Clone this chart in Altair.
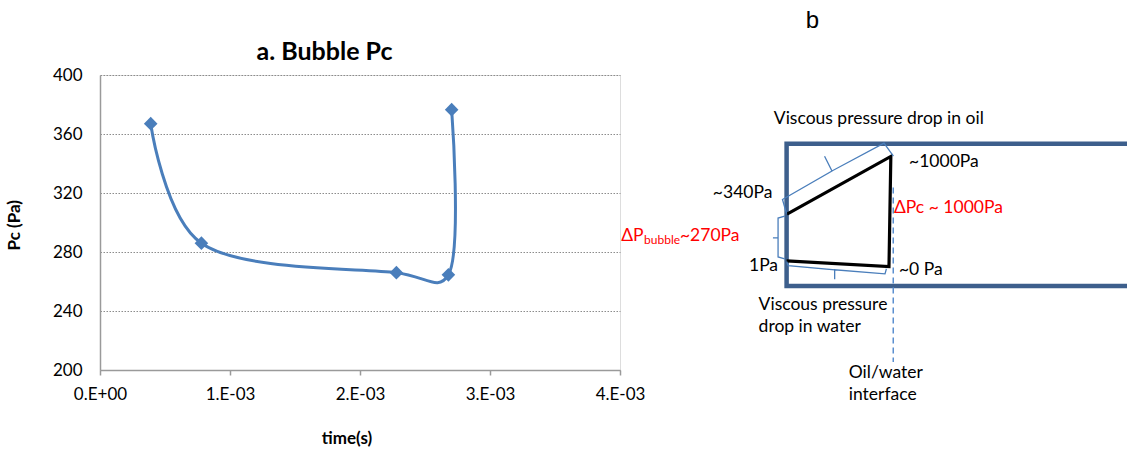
import altair as alt
import pandas as pd

# ---------------- panel a: bubble capillary pressure ----------------
time_s = [0.00039, 0.00078, 0.00228, 0.00268, 0.002705]
pc_pa = [367, 286, 266, 264.5, 376.5]
x_tick_values = [0, 0.001, 0.002, 0.003, 0.004]
x_tick_labels = ["0.E+00", "1.E-03", "2.E-03", "3.E-03", "4.E-03"]
y_tick_values = [200, 240, 280, 320, 360, 400]

# ---------------- panel b: schematic (schematic units) ----------------
# channel: left wall at u=0, bottom wall v=0, top wall v=100
wall_u = [245, 0, 0, 245]
wall_v = [100, 100, 0, 0]
profile_u = [0.3, 73.3, 72.0, 0.0]
profile_v = [50.6, 91.1, 13.7, 17.7]
interface_u = [75, 75]
interface_v = [69.3, -53.4]
brace_top_u = [0, -2.9, 31.9, 26.7, 31.9, 68.5, 75.1]
brace_top_v = [50.8, 60.8, 80.9, 91.3, 80.9, 100.5, 91.3]
brace_left_u = [-1.3, -6.0, -6.0, -9.6, -6.0, -6.0, -1.3]
brace_left_v = [49.1, 47.8, 33.8, 33.8, 33.8, 20.4, 19.1]
brace_bot_u = [0, 1.1, 33.8, 33.8, 33.8, 69.2, 70.2]
brace_bot_v = [17.3, 14.4, 11.4, 4.8, 11.4, 8.5, 12.1]

left_texts = ["Viscous pressure drop in oil", "~1000Pa", "\u0394Pc ~ 1000Pa", "~0 Pa",
              "Viscous pressure", "drop in water", "Oil/water", "interface",
              "bubble", "~270Pa"]
left_u = [-9.0, 86.1, 75.5, 79.0, -19.7, -19.7, 43.7, 43.7, -100.2, -75.0]
left_v = [114.2, 83.4, 51.1, 7.7, -17.0, -32.1, -64.7, -80.2, 29.2, 31.6]
left_col = ["black", "black", "red", "black", "black", "black", "black", "black", "red", "red"]
left_size = [17.5, 17.5, 17.5, 17.5, 17.5, 17.5, 17.5, 17.5, 12, 17.5]

right_texts = ["~340Pa", "1Pa", "\u0394P"]
right_u = [-10.0, -6.0, -100.6]
right_v = [62.2, 10.3, 31.6]
right_col = ["black", "black", "red"]
right_size = [17.5, 17.5, 17.5]

panel_b_label = ["b"]
panel_b_u = [13.4]
panel_b_v = [181.7]

BLUE = "#4A7EBB"
FONT = "Lato"

# ---------------- panel a chart ----------------
df_a = pd.DataFrame({"time": time_s, "pc": pc_pa, "order": list(range(len(time_s)))})
label_js = "[" + ",".join("'" + s + "'" for s in x_tick_labels) + "][round(datum.value*1000)]"

xa = alt.X("time:Q",
           scale=alt.Scale(domain=[0, 0.004], nice=False, zero=False),
           axis=alt.Axis(values=x_tick_values, labelExpr=label_js, grid=False, labelFlush=False,
                         title="time(s)", titleFont=FONT, titleFontSize=17, titleFontWeight="bold",
                         titleX=246.5, titleY=73.5, titleBaseline="alphabetic", titleAlign="center",
                         labelFont=FONT, labelFontSize=17, labelColor="#000000", labelPadding=11,
                         tickSize=5, tickColor="#9A9A9A", tickWidth=1.5,
                         domainColor="#9A9A9A", domainWidth=1.5))
ya = alt.Y("pc:Q",
           scale=alt.Scale(domain=[200, 400], nice=False, zero=False),
           axis=alt.Axis(values=y_tick_values, grid=True, gridColor="#8C8C8C", gridDash=[1.5, 1.5],
                         gridWidth=1, ticks=False, labelPadding=18, labelFlush=False,
                         labelFont=FONT, labelFontSize=17, labelColor="#000000",
                         title="Pc (Pa)", titleFont=FONT, titleFontSize=17, titleFontWeight="bold",
                         titleAngle=270, titleX=-81, titleY=149.7, titleBaseline="alphabetic",
                         titleAlign="center",
                         domainColor="#9A9A9A", domainWidth=1.5))

line = alt.Chart(df_a).mark_line(interpolate="catmull-rom", tension=0.25, color=BLUE,
                                 strokeWidth=3).encode(x=xa, y=ya, order="order:O")
pts = alt.Chart(df_a).mark_point(shape="diamond", filled=True, size=185, color=BLUE, opacity=1).encode(
    x="time:Q", y="pc:Q")
panel_a = alt.layer(line, pts)

# ---------------- panel b chart ----------------
U = alt.Scale(domain=[0, 100], range=[686.6, 828.8], nice=False, zero=False)
V = alt.Scale(domain=[0, 100], range=[211, 68.8], nice=False, zero=False)


def path_df(us, vs, gid):
    return pd.DataFrame({"u": us, "v": vs, "k": list(range(len(us))), "g": [gid] * len(us)})


def enc_xy():
    return dict(x=alt.X("u:Q", scale=U, axis=None), y=alt.Y("v:Q", scale=V, axis=None))


walls = alt.Chart(path_df(wall_u, wall_v, "wall")).mark_line(
    color="#3D5F8C", strokeWidth=4.5, strokeJoin="miter").encode(order="k:O", **enc_xy())
profile = alt.Chart(path_df(profile_u, profile_v, "profile")).mark_line(
    color="#000000", strokeWidth=3.2).encode(order="k:O", **enc_xy())
interface = alt.Chart(path_df(interface_u, interface_v, "iface")).mark_line(
    color="#5B8FD0", strokeWidth=1.5, strokeDash=[6, 4]).encode(order="k:O", **enc_xy())
braces_df = pd.concat([path_df(brace_top_u, brace_top_v, "top"),
                       path_df(brace_left_u, brace_left_v, "left"),
                       path_df(brace_bot_u, brace_bot_v, "bottom")])
braces = alt.Chart(braces_df).mark_line(color=BLUE, strokeWidth=1.3).encode(
    order="k:O", detail="g:N", **enc_xy())

lt_df = pd.DataFrame({"t": left_texts, "u": left_u, "v": left_v, "c": left_col, "s": left_size})
rt_df = pd.DataFrame({"t": right_texts, "u": right_u, "v": right_v, "c": right_col, "s": right_size})
b_df = pd.DataFrame({"t": panel_b_label, "u": panel_b_u, "v": panel_b_v})

lt = alt.Chart(lt_df).mark_text(align="left", baseline="alphabetic", font=FONT).encode(
    text="t:N", color=alt.Color("c:N", scale=None), size=alt.Size("s:Q", scale=None), **enc_xy())
rt = alt.Chart(rt_df).mark_text(align="right", baseline="alphabetic", font=FONT).encode(
    text="t:N", color=alt.Color("c:N", scale=None), size=alt.Size("s:Q", scale=None), **enc_xy())
bt = alt.Chart(b_df).mark_text(align="left", baseline="alphabetic", font="Liberation Sans",
                               fontSize=24, color="#000000").encode(text="t:N", **enc_xy())

panel_b = alt.layer(walls, profile, interface, braces, lt, rt, bt)

chart = alt.layer(panel_a, panel_b).resolve_scale(
    x="independent", y="independent"
).properties(
    width=520, height=295,
    padding={"left": 100, "top": 75, "right": 507, "bottom": 79},
    autosize=alt.AutoSizeParams(type="none"),
    title=alt.TitleParams(text="a. Bubble Pc", font=FONT, fontSize=25, fontWeight="bold",
                          anchor="middle", dx=-35.5, dy=80.5, baseline="alphabetic", offset=4,
                          color="#000000"),
).configure_view(stroke=None).configure(background="white")

chart.save("out.html", embed_options={"renderer": "svg", "actions": False})
